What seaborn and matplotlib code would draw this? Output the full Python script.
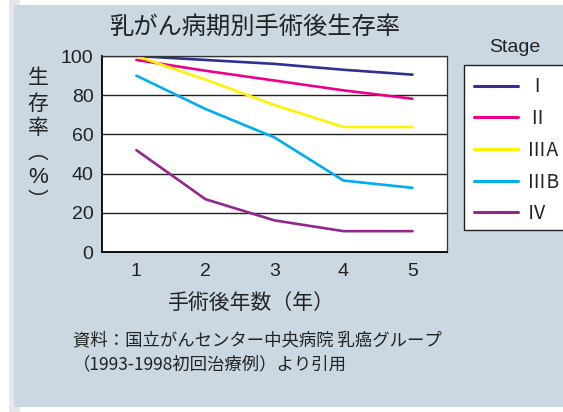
import pandas as pd
import matplotlib
matplotlib.use("Agg")
import matplotlib.pyplot as plt
from matplotlib.patches import Rectangle
from matplotlib.lines import Line2D
import seaborn as sns

# 手術後年数と病期別の生存率 (%)
years = [1, 2, 3, 4, 5]
stages = ["Ⅰ", "Ⅱ", "ⅢA", "ⅢB", "Ⅳ"]
stage_1 = [100, 98, 96, 93, 90.5]
stage_2 = [98, 92.5, 87.5, 82.5, 78.2]
stage_3a = [100, 88, 75, 63.8, 63.8]
stage_3b = [90, 73, 58.5, 36.5, 32.8]
stage_4 = [52, 27, 16.2, 10.7, 10.7]
colors = ["#2e3192", "#ec008c", "#fff200", "#00aeef", "#92278f"]

sns.set_theme(style="white")
plt.rcParams["font.family"] = ["Noto Sans CJK JP", "DejaVu Sans"]

rows = []
for name, vals in zip(stages, [stage_1, stage_2, stage_3a, stage_3b, stage_4]):
    for y, v in zip(years, vals):
        rows.append({"year": y, "rate": v, "stage": name})
df = pd.DataFrame(rows)

fig = plt.figure(figsize=(5.63, 4.12), dpi=100)
fig.patch.set_facecolor("white")
# 背景パネル
fig.patches.append(Rectangle((0.016, 0.0), 0.02, 1.0, transform=fig.transFigure,
                             facecolor="#e4e8ea", edgecolor="none", zorder=-2))
fig.patches.append(Rectangle((0.025, 0.012), 0.975, 0.975, transform=fig.transFigure,
                             facecolor="#cbd8e1", edgecolor="none", zorder=-1))
# 凡例の枠（右端で切れている）
fig.patches.append(Rectangle((0.824, 0.442), 0.25, 0.400, transform=fig.transFigure,
                             facecolor="white", edgecolor="#222222", linewidth=1.0,
                             zorder=1))

ax = fig.add_axes([0.181, 0.388, 0.613, 0.476])
ax.set_zorder(3)
ax.set_facecolor("white")

sns.lineplot(data=df, x="year", y="rate", hue="stage", hue_order=stages,
             palette=colors, linewidth=1.9, legend=False, ax=ax)

ax.set_xlim(0.5, 5.5)
ax.set_ylim(0, 100)
ax.set_yticks([0, 20, 40, 60, 80, 100])
ax.set_xticks(years)
ax.set_xticks([1.5, 2.5, 3.5, 4.5], minor=True)
ax.tick_params(axis="x", which="major", length=0, pad=8)
ax.tick_params(axis="x", which="minor", direction="in", length=8, width=1.2, color="black")
ax.tick_params(axis="y", length=0, pad=6)
for lab in ax.get_xticklabels() + ax.get_yticklabels():
    lab.set_fontfamily("Liberation Sans")
    lab.set_fontsize(14)
    lab.set_color("#222222")
ax.yaxis.grid(True, color="#222222", linewidth=1.0)
ax.set_axisbelow(True)
for side in ["left", "bottom"]:
    ax.spines[side].set_color("black")
    ax.spines[side].set_linewidth(1.3)
for side in ["top", "right"]:
    ax.spines[side].set_color("#333333")
    ax.spines[side].set_linewidth(0.9)
ax.set_xlabel("")
ax.set_ylabel("")

fig.text(0.453, 0.935, "乳がん病期別手術後生存率", ha="center", va="center",
         fontsize=17.5, color="#222222")

# 縦書きの軸ラベル
for ch, yp in zip(["生", "存", "率"], [0.811, 0.748, 0.690]):
    fig.text(0.068, yp, ch, ha="center", va="center", fontsize=15, color="#222222")
fig.text(0.068, 0.629, "︵", ha="center", va="center", fontsize=15, color="#222222")
fig.text(0.068, 0.570, "%", ha="center", va="center", fontsize=16,
         fontfamily="Liberation Sans", color="#222222")
fig.text(0.068, 0.512, "︶", ha="center", va="center", fontsize=15, color="#222222")

fig.text(0.447, 0.265, "手術後年数（年）", ha="center", va="center",
         fontsize=15, color="#222222")
fig.text(0.13, 0.175, "資料：国立がんセンター中央病院 乳癌グループ",
         ha="left", va="center", fontsize=12.5, color="#222222")
fig.text(0.13, 0.115, "（1993-1998初回治療例）より引用",
         ha="left", va="center", fontsize=12.5, color="#222222")

# 凡例
fig.text(0.915, 0.885, "Stage", ha="center", va="center", fontsize=14,
         fontfamily="Liberation Sans", color="#222222")
handles = [Line2D([0], [0], color=c, linewidth=2.2) for c in colors]
leg = fig.legend(handles, stages, loc="upper left", bbox_to_anchor=(0.824, 0.838),
                 frameon=False, fontsize=14, handlelength=2.3, labelspacing=0.55,
                 borderpad=0.5, handletextpad=0.45, borderaxespad=0)
leg.set_zorder(4)

fig.savefig("out.png", dpi=100)
